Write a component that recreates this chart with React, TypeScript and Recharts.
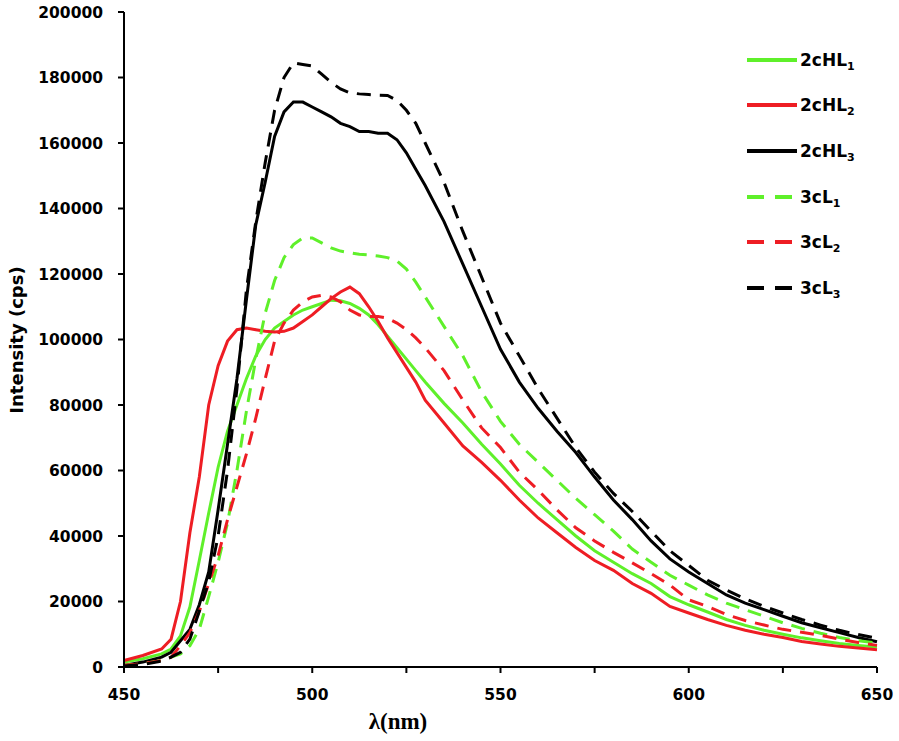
import React from 'react';
import { LineChart, Line, XAxis, YAxis, Label } from 'recharts';

const wavelength = [450, 455, 460, 462.5, 465, 467.5, 470, 472.5, 475, 477.5, 480, 482.5, 485, 487.5, 490, 492.5, 495, 497.5, 500, 502.5, 505, 507.5, 510, 512.5, 515, 517.5, 520, 522.5, 525, 527.5, 530, 535, 540, 545, 550, 555, 560, 565, 570, 575, 580, 585, 590, 595, 600, 605, 610, 615, 620, 625, 630, 635, 640, 645, 650];

const hl1 = [1500, 2500, 4000, 5500, 9500, 18300, 32500, 47000, 61000, 72000, 80000, 88000, 95000, 100000, 103500, 105500, 107500, 109000, 110000, 111000, 112000, 111800, 111000, 109500, 107500, 104500, 101000, 97500, 94000, 90500, 87000, 80500, 74500, 68000, 62000, 55500, 50000, 45000, 40000, 35500, 32000, 28500, 25500, 21500, 19000, 16800, 14500, 12700, 11200, 10000, 8900, 8000, 7200, 6600, 6100];

const hl2 = [2000, 3500, 5500, 8500, 20000, 41000, 58000, 80000, 92000, 99500, 103000, 103500, 103000, 102500, 102300, 102500, 103500, 105500, 107500, 110000, 112500, 114500, 116000, 114000, 110000, 105500, 100500, 96000, 91500, 87000, 81500, 74500, 67500, 62500, 57000, 51000, 45500, 41000, 36500, 32500, 29500, 25500, 22500, 18500, 16500, 14500, 12700, 11200, 10000, 9000, 7800, 7000, 6300, 5800, 5300];

const hl3 = [500, 1500, 3000, 4500, 8000, 11500, 19000, 29000, 48000, 68000, 88000, 112000, 135000, 148000, 162000, 169500, 172500, 172500, 171000, 169500, 168000, 166000, 165000, 163500, 163500, 163000, 163000, 161000, 157000, 152000, 147000, 136000, 123000, 110000, 97000, 87000, 79000, 72000, 65500, 58000, 51000, 45000, 38500, 33000, 29000, 25500, 22000, 19500, 17500, 15500, 13500, 12000, 10500, 9000, 7700];

const cl1 = [500, 1000, 2000, 3000, 4000, 6500, 11500, 21500, 32000, 44000, 60000, 78000, 94000, 108000, 118000, 125000, 129000, 131000, 131000, 129500, 128000, 127000, 126500, 126000, 125800, 125500, 125000, 124000, 121500, 117500, 113000, 104000, 95000, 84000, 75000, 68000, 62500, 57000, 51500, 46500, 41500, 36000, 32000, 28000, 25000, 22000, 19500, 17500, 15500, 13500, 11800, 10300, 9000, 8000, 7300];

const cl2 = [500, 1000, 2000, 3000, 6500, 10500, 17000, 25500, 34000, 45000, 55000, 65000, 76000, 88000, 99500, 105000, 109000, 111500, 113000, 113500, 113000, 111500, 109000, 107500, 107000, 107000, 106500, 105000, 103000, 100500, 97500, 90500, 81500, 73000, 67000, 59500, 54000, 48000, 42500, 38500, 35000, 31800, 28500, 25000, 20500, 18500, 16000, 14200, 12800, 11500, 10600, 9700, 8500, 7500, 6600];

const cl3 = [300, 800, 1800, 3000, 4500, 8500, 17000, 26000, 40000, 60000, 85000, 115000, 136000, 154000, 170000, 180000, 184500, 184000, 183500, 181000, 178500, 176500, 175300, 175000, 174800, 174600, 174500, 173000, 170000, 166000, 160000, 148000, 133000, 119000, 105000, 95000, 85000, 76000, 67000, 59500, 53000, 47500, 41500, 35500, 31000, 26500, 23500, 20800, 18500, 16500, 14500, 12800, 11200, 9900, 8800];

const xTicks = [450, 475, 500, 525, 550, 575, 600, 625, 650];
const yTicks = [0, 20000, 40000, 60000, 80000, 100000, 120000, 140000, 160000, 180000, 200000];

const GREEN = '#5ff02a';
const RED = '#ee1d24';
const BLACK = '#000000';

const seriesDefs = [
  { key: 'hl1', name: '2cHL', sub: '1', color: GREEN, dash: undefined as string | undefined },
  { key: 'hl2', name: '2cHL', sub: '2', color: RED, dash: undefined },
  { key: 'hl3', name: '2cHL', sub: '3', color: BLACK, dash: undefined },
  { key: 'cl1', name: '3cL', sub: '1', color: GREEN, dash: '14 9' },
  { key: 'cl2', name: '3cL', sub: '2', color: RED, dash: '14 9' },
  { key: 'cl3', name: '3cL', sub: '3', color: BLACK, dash: '14 9' },
];

const data = wavelength.map((w, i) => ({
  w,
  hl1: hl1[i],
  hl2: hl2[i],
  hl3: hl3[i],
  cl1: cl1[i],
  cl2: cl2[i],
  cl3: cl3[i],
}));

const tickFont = {
  fontFamily: '"DejaVu Sans", Verdana, sans-serif',
  fontWeight: 'bold' as const,
  fontSize: 15.5,
  fill: '#000',
};

const LegendBox = () => (
  <div
    style={{
      position: 'absolute',
      left: 746,
      top: 37,
      width: 150,
      fontFamily: '"DejaVu Sans", Verdana, sans-serif',
      fontWeight: 'bold',
      fontSize: 17,
      color: '#000',
    }}
  >
    {seriesDefs.map((s) => (
      <div key={s.key} style={{ display: 'flex', alignItems: 'center', height: 45.6 }}>
        <svg width={52} height={10} style={{ marginRight: 2 }}>
          <line x1={1} y1={5} x2={51} y2={5} stroke={s.color} strokeWidth={4} strokeDasharray={s.dash ? '17 11' : undefined} />
        </svg>
        <span>
          {s.name}
          <sub style={{ fontSize: 11, verticalAlign: 'sub', lineHeight: 0 }}>{s.sub}</sub>
        </span>
      </div>
    ))}
  </div>
);

export default function App() {
  return (
    <div style={{ position: 'absolute', left: 0, top: 0, width: 899, height: 741, background: '#fff' }}>
      <LineChart width={899} height={741} data={data} margin={{ top: 12, right: 22, bottom: 0, left: 0 }}>
        <XAxis
          dataKey="w"
          type="number"
          domain={[450, 650]}
          ticks={xTicks}
          tickFormatter={(v: number) => (v % 50 === 0 ? String(v) : '')}
          tick={tickFont}
          tickSize={6}
          tickMargin={16}
          height={74}
          axisLine={{ stroke: '#000', strokeWidth: 2 }}
          tickLine={{ stroke: '#000', strokeWidth: 2 }}
          interval={0}
        >
          <Label
            content={() => (
              <text x={398} y={729} textAnchor="middle" style={{ fontFamily: '"Liberation Serif", "Times New Roman", serif', fontWeight: 'bold', fontSize: 23, fill: '#000' }}>
                λ(nm)
              </text>
            )}
          />
        </XAxis>
        <YAxis
          type="number"
          domain={[0, 200000]}
          ticks={yTicks}
          tick={tickFont}
          tickSize={6}
          tickMargin={15}
          width={124}
          axisLine={{ stroke: '#000', strokeWidth: 2 }}
          tickLine={{ stroke: '#000', strokeWidth: 2 }}
          interval={0}
        >
          <Label
            content={() => (
              <text x={0} y={0} transform="translate(23,340) rotate(-90)" textAnchor="middle" style={{ fontFamily: '"DejaVu Sans", Verdana, sans-serif', fontWeight: 'bold', fontSize: 18, fill: '#000' }}>
                Intensity (cps)
              </text>
            )}
          />
        </YAxis>
        {seriesDefs.map((s) => (
          <Line
            key={s.key}
            dataKey={s.key}
            type="linear"
            stroke={s.color}
            strokeWidth={3}
            strokeDasharray={s.dash}
            dot={false}
            activeDot={false}
            isAnimationActive={false}
          />
        ))}
      </LineChart>
      <LegendBox />
    </div>
  );
}
